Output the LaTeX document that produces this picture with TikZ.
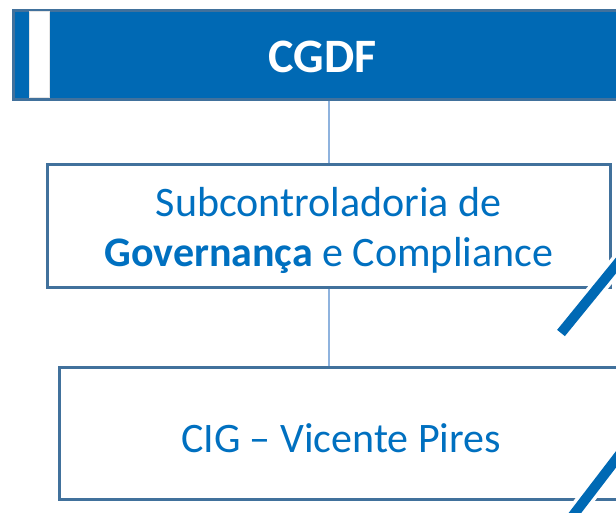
\documentclass[tikz,border=0pt]{standalone}
\usepackage{fontspec}
\setmainfont{Carlito}
\usetikzlibrary{calc}
\definecolor{barblue}{HTML}{0069B4}
\definecolor{txtblue}{HTML}{0070C0}
\definecolor{edge}{HTML}{41719C}
\definecolor{conn}{HTML}{8FB3DE}
\begin{document}
\begin{tikzpicture}[x=1pt,y=-1pt,
  box/.style={draw=edge, line width=3pt, fill=white, inner sep=0pt, align=center,
    text=txtblue, font=\fontsize{42}{50}\selectfont},
  connector/.style={draw=conn, line width=1.5pt},
  slash/.style={line width=10pt, draw=barblue}]
\useasboundingbox (0,0) rectangle (616,512);
\fill[white] (0,0) rectangle (616,512);
% top bar
\node[box, fill=barblue, minimum width=619pt, minimum height=89pt, text=white,
  font=\fontsize{48}{50}\selectfont\bfseries] (bar) at (322.5,54.5) {\raisebox{-2pt}[\height][\depth]{CGDF}};
\node[draw=white!90!black, line width=0.5pt, fill=white, minimum width=20pt, minimum height=86pt, inner sep=0pt] (stripe) at (39.5,54.5) {};
% boxes
\node[box, minimum width=562.5pt, minimum height=123pt] (gov) at (328.75,226)
  {\raisebox{-5pt}[\height][\depth]{\begin{tabular}{@{}c@{}}Subcontroladoria de\\\textbf{Governança} e Compliance\end{tabular}}};
\node[box, minimum width=564pt, minimum height=131.5pt] (cig) at (341,433.25)
  {\raisebox{-5pt}[\height][\depth]{CIG – Vicente Pires}};
% connectors
\draw[connector] (gov.north |- bar.south) -- (gov.north);
\draw[connector] (gov.south) -- (gov.south |- cig.north);
% decorative slashes
\coordinate (s1a) at (561,333);
\coordinate (s1b) at (640,236);
\coordinate (s2a) at (568,522);
\coordinate (s2b) at (640,428);
\draw[white, line width=17pt] ($(s1a)!-3pt!(s1b)$) -- (s1b);
\draw[slash] (s1a) -- (s1b);
\draw[white, line width=17pt] (s2a) -- (s2b);
\draw[slash] (s2a) -- (s2b);
\end{tikzpicture}
\end{document}
